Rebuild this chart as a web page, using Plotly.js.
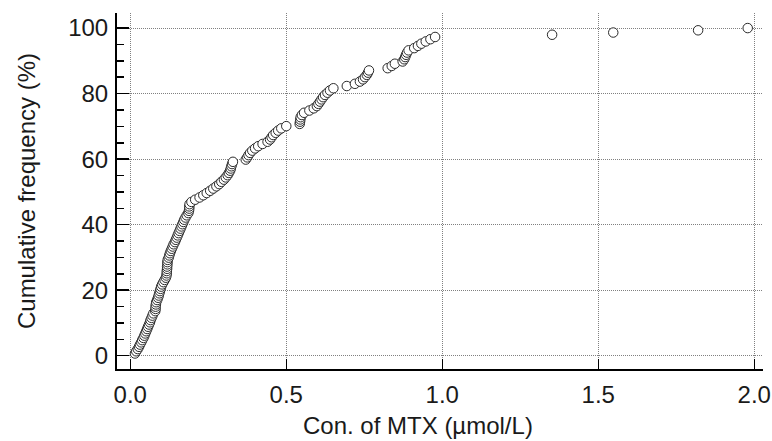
<!DOCTYPE html>
<html>
<head>
<meta charset="utf-8">
<script src="https://cdn.plot.ly/plotly-3.0.1.min.js"></script>
<style>html,body{margin:0;padding:0;background:#fff;}</style>
</head>
<body>
<div id="chart" style="width:772px;height:441px;"></div>
<script>
// MTX concentration (µmol/L), sorted
const concMTX = [
  0.015,0.019,0.024,0.028,0.031,0.035,0.038,0.042,0.045,0.048,
  0.051,0.054,0.057,0.060,0.063,0.065,0.068,0.071,0.074,0.080,
  0.081,0.081,0.082,0.083,0.086,0.089,0.091,0.093,0.095,0.097,
  0.099,0.102,0.106,0.110,0.114,0.116,0.117,0.117,0.118,0.118,
  0.119,0.119,0.120,0.123,0.125,0.127,0.130,0.133,0.136,0.139,
  0.143,0.146,0.149,0.152,0.155,0.158,0.161,0.164,0.167,0.170,
  0.173,0.177,0.181,0.186,0.188,0.189,0.189,0.190,0.196,0.208,
  0.222,0.234,0.245,0.256,0.266,0.276,0.285,0.292,0.300,0.306,
  0.312,0.316,0.320,0.322,0.324,0.326,0.329,0.370,0.375,0.379,
  0.384,0.391,0.400,0.410,0.424,0.440,0.448,0.453,0.458,0.466,
  0.474,0.484,0.500,0.543,0.544,0.545,0.546,0.550,0.557,0.574,
  0.588,0.598,0.603,0.608,0.613,0.618,0.624,0.632,0.640,0.651,
  0.694,0.720,0.736,0.746,0.752,0.758,0.762,0.765,0.825,0.838,
  0.848,0.873,0.878,0.881,0.884,0.887,0.892,0.910,0.922,0.933,
  0.947,0.962,0.977,1.352,1.548,1.820,1.979
];
// Cumulative frequency (%)
const cumFreq = [
  0.68,1.36,2.04,2.72,3.40,4.08,4.76,5.44,6.12,6.80,
  7.48,8.16,8.84,9.52,10.20,10.88,11.56,12.24,12.93,13.61,
  14.29,14.97,15.65,16.33,17.01,17.69,18.37,19.05,19.73,20.41,
  21.09,21.77,22.45,23.13,23.81,24.49,25.17,25.85,26.53,27.21,
  27.89,28.57,29.25,29.93,30.61,31.29,31.97,32.65,33.33,34.01,
  34.69,35.37,36.05,36.73,37.41,38.10,38.78,39.46,40.14,40.82,
  41.50,42.18,42.86,43.54,44.22,44.90,45.58,46.26,46.94,47.62,
  48.30,48.98,49.66,50.34,51.02,51.70,52.38,53.06,53.74,54.42,
  55.10,55.78,56.46,57.14,57.82,58.50,59.18,59.86,60.54,61.22,
  61.90,62.59,63.27,63.95,64.63,65.31,65.99,66.67,67.35,68.03,
  68.71,69.39,70.07,70.75,71.43,72.11,72.79,73.47,74.15,74.83,
  75.51,76.19,76.87,77.55,78.23,78.91,79.59,80.27,80.95,81.63,
  82.31,82.99,83.67,84.35,85.03,85.71,86.39,87.07,87.76,88.44,
  89.12,89.80,90.48,91.16,91.84,92.52,93.20,93.88,94.56,95.24,
  95.92,96.60,97.28,97.96,98.64,99.32,100.00
];
const xTickVals = [0, 0.5, 1.0, 1.5, 2.0];
const xTickText = ["0.0", "0.5", "1.0", "1.5", "2.0"];
const yTickVals = [0, 20, 40, 60, 80, 100];
const yTickText = ["0", "20", "40", "60", "80", "100"];
const xTitle = "Con. of MTX (µmol/L)";
const yTitle = "Cumulative frequency (%)";

const FONT = "Liberation Sans, Arial, sans-serif";
const TXT = "#1a1a1a";

const trace = {
  x: concMTX,
  y: cumFreq,
  type: "scatter",
  mode: "markers",
  marker: {symbol: "circle", size: 9.5, color: "#ffffff", line: {color: "#2a2a2a", width: 1}},
  hoverinfo: "x+y",
  showlegend: false
};

const layout = {
  width: 772,
  height: 441,
  margin: {l: 117, r: 9, t: 13, b: 72, pad: 0},
  paper_bgcolor: "#ffffff",
  plot_bgcolor: "#ffffff",
  font: {family: FONT, size: 24, color: TXT},
  xaxis: {
    range: [-0.0426, 2.028],
    tickvals: xTickVals,
    ticktext: xTickText,
    ticks: "inside",
    ticklen: 10,
    tickwidth: 1.5,
    tickcolor: "#000",
    showline: true,
    linewidth: 2,
    linecolor: "#000",
    showgrid: true,
    gridcolor: "#808080",
    griddash: "1px,1px",
    gridwidth: 1,
    zeroline: false,
    tickfont: {family: FONT, size: 24, color: TXT},
    ticklabelstandoff: 3
  },
  yaxis: {
    range: [-4.05, 104.6],
    tickvals: yTickVals,
    ticktext: yTickText,
    ticks: "inside",
    ticklen: 12,
    tickwidth: 1.5,
    tickcolor: "#000",
    minor: {dtick: 5, tick0: 0, ticks: "inside", ticklen: 7, tickwidth: 1.5, tickcolor: "#000", showgrid: false},
    showline: true,
    linewidth: 2,
    linecolor: "#000",
    showgrid: true,
    gridcolor: "#808080",
    griddash: "1px,1px",
    gridwidth: 1,
    zeroline: false,
    tickfont: {family: FONT, size: 24, color: TXT},
    ticklabelstandoff: 2,
    title: {text: yTitle, font: {family: FONT, size: 24, color: TXT}, standoff: 26}
  },
  annotations: [{
    text: xTitle,
    xref: "paper", yref: "paper",
    x: (418 - 117) / 646, y: -(436 - 369) / 356,
    xanchor: "center", yanchor: "bottom",
    yshift: -5,
    showarrow: false,
    font: {family: FONT, size: 24, color: TXT}
  }]
};

Plotly.newPlot("chart", [trace], layout, {displayModeBar: false, staticPlot: true});
</script>
</body>
</html>
